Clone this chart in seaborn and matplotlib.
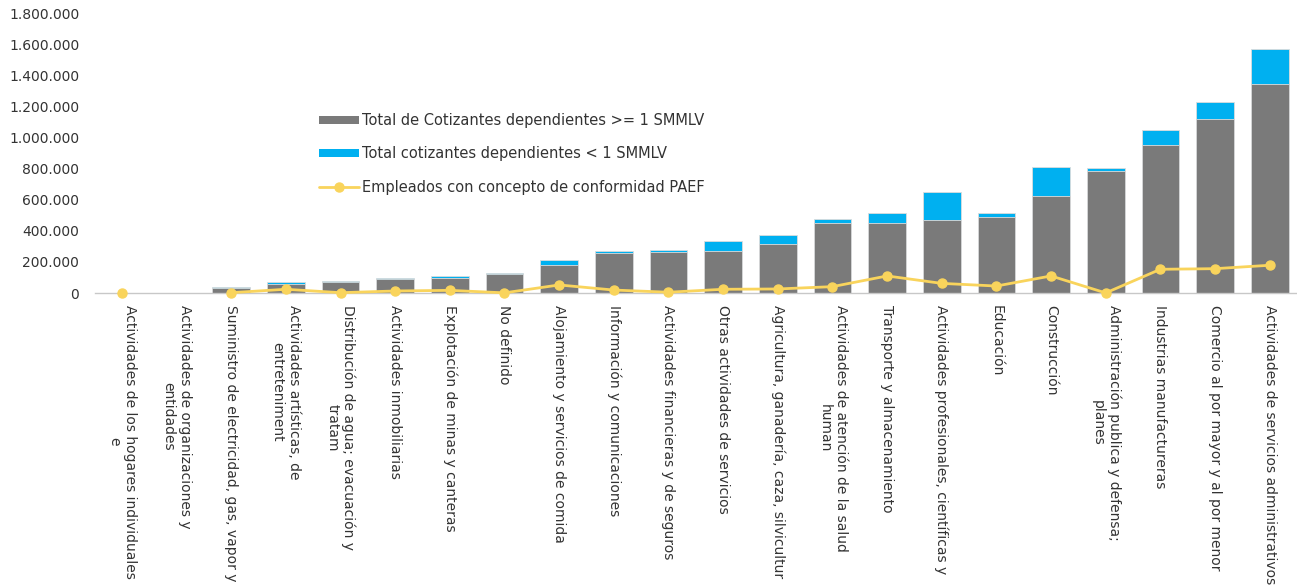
import numpy as np
import pandas as pd
import matplotlib
matplotlib.use('Agg')
import matplotlib.pyplot as plt
import seaborn as sns
from matplotlib.ticker import FuncFormatter
from matplotlib.patches import Patch
from matplotlib.lines import Line2D

categorias = [
    "Actividades de los hogares individuales\ne",
    "Actividades de organizaciones y\nentidades",
    "Suministro de electricidad, gas, vapor y",
    "Actividades artísticas, de\nentreteniment",
    "Distribución de agua; evacuación y\ntratam",
    "Actividades inmobiliarias",
    "Explotación de minas y canteras",
    "No definido",
    "Alojamiento y servicios de comida",
    "Información y comunicaciones",
    "Actividades financieras y de seguros",
    "Otras actividades de servicios",
    "Agricultura, ganadería, caza, silvicultur",
    "Actividades de atención de la salud\nhuman",
    "Transporte y almacenamiento",
    "Actividades profesionales, científicas y",
    "Educación",
    "Construcción",
    "Administración publica y defensa;\nplanes",
    "Industrias manufactureras",
    "Comercio al por mayor y al por menor",
    "Actividades de servicios administrativos",
]

# cotizantes >= 1 SMMLV (gris)
mayor_smmlv = [0, 0, 30000, 60000, 69000, 90000, 99000, 120000, 181000, 256000,
               267000, 271000, 316000, 454000, 454000, 471000, 488000, 628000,
               787000, 955000, 1125000, 1350000]
# cotizantes < 1 SMMLV (azul)
menor_smmlv = [0, 0, 10000, 13000, 10000, 7000, 11000, 7000, 32000, 17000,
               10000, 64000, 56000, 23000, 60000, 179000, 26000, 185000,
               19000, 97000, 107000, 222000]
# empleados PAEF (linea)
paef = [1000, np.nan, 2000, 24000, 2000, 13000, 17000, 1000, 52000, 19000,
        5000, 24000, 26000, 41000, 110000, 62000, 45000, 110000,
        500, 153000, 157000, 179000]

GRIS = '#7a7a7a'
AZUL = '#00b0f0'
AMARILLO = '#f9d45c'

df = pd.DataFrame({
    'categoria': categorias,
    'mayor': mayor_smmlv,
    'menor': menor_smmlv,
    'paef': paef,
})
df['total'] = df['mayor'] + df['menor']

sns.set_theme(style='white')
plt.rcParams['font.family'] = ['DejaVu Sans']

fig = plt.figure(figsize=(12.97, 5.88), dpi=100)
ax = fig.add_axes([0.0729, 0.5017, 0.9271, 0.4745])

# barras apiladas: total (azul) detras y >= 1 SMMLV (gris) encima
sns.barplot(data=df, x='categoria', y='total', color=AZUL, width=0.69,
            edgecolor='#dcdcdc', linewidth=0.6, saturation=1, ax=ax)
sns.barplot(data=df, x='categoria', y='mayor', color=GRIS, width=0.69,
            edgecolor='#dcdcdc', linewidth=0.6, saturation=1, ax=ax)
xs = np.arange(len(categorias))
ax.plot(xs, df['paef'], color=AMARILLO, linewidth=2, marker='o',
        markersize=6.5, zorder=5, clip_on=False)

ax.set_xlim(-0.5, len(categorias) - 0.5)
ax.set_ylim(0, 1800000)
ax.set_yticks(np.arange(0, 1800001, 200000))
ax.yaxis.set_major_formatter(FuncFormatter(lambda v, p: f'{int(v):,}'.replace(',', '.')))
ax.tick_params(axis='y', length=0, pad=11, labelsize=10, labelcolor='#333333')
ax.tick_params(axis='x', length=0, pad=8.5, labelsize=10, labelcolor='#333333')
ax.set_xticks(xs)
ax.set_xticklabels(categorias, rotation=270, ha='center', va='top',
                   multialignment='center')
ax.set_xlabel('')
ax.set_ylabel('')
for s in ['top', 'right', 'left']:
    ax.spines[s].set_visible(False)
ax.spines['bottom'].set_color('#c8c8c8')
ax.spines['bottom'].set_linewidth(1)
ax.set_facecolor('none')

handles = [
    Patch(facecolor=GRIS, edgecolor='none'),
    Patch(facecolor=AZUL, edgecolor='none'),
    Line2D([0], [0], color=AMARILLO, linewidth=2, marker='o', markersize=6.5),
]
labels = ['Total de Cotizantes dependientes >= 1 SMMLV',
          'Total cotizantes dependientes < 1 SMMLV',
          'Empleados con concepto de conformidad PAEF']
fig.legend(handles, labels, loc='upper left',
           bbox_to_anchor=(306 / 1297, 1 - 100 / 588), frameon=False,
           fontsize=10.5, handlelength=2.75, handleheight=0.45,
           labelspacing=1.25, handletextpad=0.2, labelcolor='#333333')

fig.savefig('out.png', dpi=100, facecolor='white')
